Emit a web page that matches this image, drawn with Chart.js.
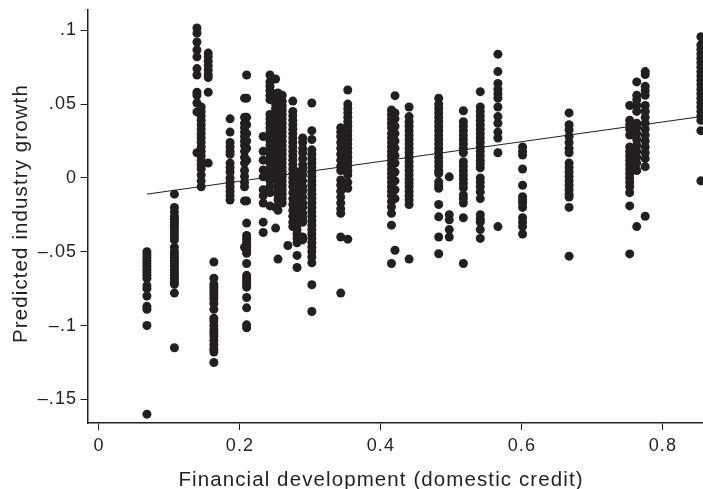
<!DOCTYPE html>
<html>
<head>
<meta charset="utf-8">
<title>Predicted industry growth</title>
<script src="https://cdn.jsdelivr.net/npm/chart.js@4"></script>
<style>
  html, body { margin: 0; padding: 0; background: #fff; }
  canvas { display: block; }
</style>
</head>
<body>
<canvas id="scatterChart" width="703" height="489"></canvas>
<script>
const xTicks = [0, 0.2, 0.4, 0.6, 0.8];
const xTickLabels = ['0', '0.2', '0.4', '0.6', '0.8'];
const yTicks = [0.1, 0.05, 0, -0.05, -0.1, -0.15];
const yTickLabels = ['.1', '.05', '0', '\u2013.05', '\u2013.1', '\u2013.15'];
const xTitle = 'Financial development (domestic credit)';
const yTitle = 'Predicted industry growth';

// one x value per column of dots, growth values below in the same order
const creditLevels = [0.068, 0.107, 0.139, 0.145, 0.155, 0.163, 0.186, 0.2065, 0.2095, 0.233, 0.2426, 0.2506, 0.254, 0.26,
  0.268, 0.275, 0.281, 0.289, 0.302, 0.343, 0.353, 0.415, 0.42, 0.44, 0.482, 0.497, 0.517, 0.541, 0.566, 0.601, 0.667,
  0.753, 0.763, 0.775, 0.854];

const c068 = [-0.05, -0.052, -0.054, -0.056, -0.058, -0.06, -0.062, -0.064, -0.066, -0.068, -0.073, -0.075, -0.08, -0.087, -0.089, -0.1, -0.16];
const c107 = [-0.011, -0.02, -0.023, -0.026, -0.028, -0.03, -0.032, -0.034, -0.036, -0.038, -0.04, -0.042, -0.047, -0.05, -0.052, -0.054, -0.056, -0.058, -0.06, -0.062, -0.064, -0.066, -0.068, -0.07, -0.072, -0.078, -0.115];
const c139 = [0.1015, 0.098, 0.092, 0.0866, 0.082, 0.074, 0.0697, 0.058, 0.056, 0.0507, 0.0447, 0.017];
const c145 = [0.048, 0.045, 0.042, 0.039, 0.036, 0.033, 0.03, 0.027, 0.024, 0.021, 0.018, 0.015, 0.012, 0.009, 0.006, 0.002, -0.002, -0.006];
const c155 = [0.0845, 0.082, 0.079, 0.076, 0.073, 0.07, 0.068, 0.058, 0.01];
const c163 = [-0.057, -0.068, -0.072, -0.074, -0.076, -0.078, -0.08, -0.082, -0.085, -0.089, -0.095, -0.097, -0.1, -0.103, -0.105, -0.107, -0.11, -0.113, -0.116, -0.118, -0.125];
const c186 = [0.04, 0.031, 0.024, 0.021, 0.018, 0.016, 0.01, 0.007, 0.004, 0.0, -0.003, -0.006, -0.009, -0.012, -0.015];
const c2065 = [0.054, 0.041, 0.037, 0.034, 0.031, 0.028, 0.025, 0.022, 0.018, 0.014, 0.01, 0.005, 0.001, -0.003, -0.006, -0.0156, -0.047];
const c2095 = [0.0697, 0.054, 0.041, 0.036, 0.03, 0.025, 0.02, 0.012, -0.0156, -0.0306, -0.039, -0.041, -0.043, -0.045, -0.047, -0.049, -0.051, -0.058, -0.066, -0.068, -0.07, -0.072, -0.074, -0.081, -0.088, -0.0995, -0.1015];
const c233 = [0.028, 0.018, 0.012, 0.0054, 0.0007, -0.008, -0.012, -0.017, -0.03, -0.037];
const c2426 = [0.0697, 0.065, 0.062, 0.059, 0.056, 0.053, 0.043, 0.04, 0.037, 0.034, 0.031, 0.028, 0.025, 0.022, 0.019, 0.016, 0.013, 0.01, 0.006, 0.002, -0.002, -0.006, -0.01, -0.019];
const c2506 = [0.067, 0.057, 0.054, 0.05, 0.047, 0.045, 0.04, 0.035, 0.03, 0.025, 0.02, 0.014, 0.008, 0.002, -0.02, -0.034];
const c254 = [0.0575, 0.054, 0.051, 0.048, 0.045, 0.042, 0.039, 0.036, 0.033, 0.03, 0.027, 0.024, 0.021, 0.018, 0.015, 0.012, 0.009, 0.006, 0.003, 0.0, -0.003, -0.006, -0.009, -0.012, -0.015, -0.022, -0.055];
const c26 = [0.056, 0.052, 0.049, 0.046, 0.043, 0.04, 0.037, 0.034, 0.031, 0.028, 0.025, 0.022, 0.019, 0.016, 0.013, 0.01, 0.007, 0.004, 0.001, -0.002, -0.005, -0.008, -0.011, -0.014, -0.017];
const c268 = [-0.0458];
const c275 = [0.052, 0.045, 0.042, 0.039, 0.036, 0.033, 0.03, 0.027, 0.024, 0.021, 0.018, 0.015, 0.012, 0.009, 0.006, 0.003, 0.0, -0.003, -0.006, -0.01, -0.014, -0.018, -0.022, -0.026, -0.03, -0.033];
const c281 = [0.004, 0.001, -0.003, -0.006, -0.01, -0.014, -0.018, -0.022, -0.026, -0.029, -0.032, -0.035, -0.038, -0.041, -0.044, -0.0525, -0.0607];
const c289 = [0.027, 0.024, 0.02, 0.017, 0.013, 0.009, 0.006, 0.002, -0.002, -0.006, -0.009, -0.013, -0.017, -0.02, -0.024, -0.027, -0.03, -0.04, -0.042];
const c302 = [0.0507, 0.032, 0.026, 0.019, 0.016, 0.013, 0.01, 0.007, 0.004, 0.001, -0.002, -0.005, -0.008, -0.011, -0.014, -0.017, -0.02, -0.023, -0.026, -0.029, -0.032, -0.035, -0.038, -0.041, -0.044, -0.047, -0.05, -0.0535, -0.0575, -0.0724, -0.0905];
const c343 = [0.034, 0.031, 0.028, 0.024, 0.02, 0.016, 0.012, 0.008, 0.005, -0.0014, -0.005, -0.009, -0.013, -0.017, -0.021, -0.024, -0.04, -0.078];
const c353 = [0.0595, 0.05, 0.047, 0.044, 0.041, 0.038, 0.035, 0.032, 0.029, 0.026, 0.023, 0.02, 0.017, 0.014, 0.011, 0.008, 0.005, 0.002, -0.003, -0.007, -0.0415];
const c415 = [0.046, 0.043, 0.04, 0.037, 0.034, 0.03, 0.027, 0.024, 0.021, 0.018, 0.015, 0.012, 0.009, 0.006, 0.003, 0.0, -0.003, -0.006, -0.009, -0.012, -0.016, -0.0196, -0.024, -0.032, -0.058];
const c42 = [0.0557, 0.044, 0.04, 0.035, 0.03, 0.025, 0.02, 0.015, 0.01, 0.004, -0.002, -0.008, -0.014, -0.049];
const c44 = [0.048, 0.0415, 0.038, 0.035, 0.032, 0.029, 0.026, 0.023, 0.02, 0.017, 0.014, 0.011, 0.008, 0.005, 0.002, -0.001, -0.0035, -0.006, -0.009, -0.012, -0.015, -0.018, -0.055];
const c482 = [0.054, 0.05, 0.047, 0.044, 0.041, 0.038, 0.035, 0.032, 0.029, 0.026, 0.023, 0.02, 0.017, 0.014, 0.011, 0.008, 0.005, 0.003, -0.0027, -0.005, -0.007, -0.018, -0.0264, -0.04, -0.0514];
const c497 = [0.0007, -0.025, -0.0284, -0.035, -0.04];
const c517 = [0.0455, 0.038, 0.035, 0.032, 0.029, 0.026, 0.023, 0.02, 0.017, 0.011, 0.008, 0.005, 0.002, -0.001, -0.004, -0.0068, -0.0115, -0.014, -0.017, -0.027, -0.058];
const c541 = [0.0584, 0.048, 0.045, 0.042, 0.039, 0.036, 0.033, 0.03, 0.027, 0.024, 0.021, 0.018, 0.015, 0.012, 0.0095, 0.0068, 0.0, -0.003, -0.006, -0.0095, -0.014, -0.025, -0.028, -0.03, -0.035, -0.041];
const c566 = [0.0838, 0.072, 0.064, 0.06, 0.057, 0.054, 0.048, 0.0415, 0.037, 0.031, 0.027, 0.017, -0.033];
const c601 = [0.021, 0.018, 0.0155, 0.006, -0.005, -0.0127, -0.015, -0.017, -0.02, -0.027, -0.03, -0.033, -0.038];
const c667 = [0.044, 0.036, 0.0325, 0.028, 0.024, 0.02, 0.017, 0.01, 0.007, 0.004, 0.001, -0.002, -0.005, -0.008, -0.011, -0.013, -0.02, -0.053];
const c753 = [0.049, 0.039, 0.036, 0.033, 0.029, 0.021, 0.018, 0.015, 0.012, 0.009, 0.006, 0.003, 0.0, -0.003, -0.006, -0.01, -0.019, -0.0515];
const c763 = [0.065, 0.056, 0.053, 0.049, 0.045, 0.037, 0.034, 0.03, 0.026, 0.022, 0.018, 0.014, 0.01, 0.005, -0.033];
const c775 = [0.072, 0.07, 0.062, 0.059, 0.056, 0.049, 0.045, 0.041, 0.037, 0.033, 0.029, 0.025, 0.021, 0.017, 0.013, 0.0076, -0.026];
const c854 = [0.0956, 0.09, 0.087, 0.084, 0.081, 0.078, 0.075, 0.072, 0.069, 0.066, 0.063, 0.06, 0.057, 0.054, 0.051, 0.048, 0.045, 0.042, 0.039, 0.032, -0.002];

const growthColumns = [c068, c107, c139, c145, c155, c163, c186, c2065, c2095, c233, c2426, c2506, c254, c26, c268, c275, c281,
  c289, c302, c343, c353, c415, c42, c44, c482, c497, c517, c541, c566, c601, c667, c753, c763, c775, c854];

const fitX = [0.068, 0.854];
const fitY = [-0.011, 0.0415];

const ink = '#231f20';
const fontFamily = '"Liberation Sans", Arial, sans-serif';

const points = [];
creditLevels.forEach((x, i) => {
  growthColumns[i].forEach(y => points.push({ x, y }));
});

// the book's type is widely spaced, and its axis titles are off centre,
// the scale title option can do neither
const bookType = {
  id: 'bookType',
  beforeDraw(chart) {
    chart.ctx.letterSpacing = '1.1px';
  },
  afterDraw(chart) {
    const ctx = chart.ctx;
    ctx.save();
    ctx.fillStyle = ink;
    ctx.font = `20.5px ${fontFamily}`;
    ctx.textAlign = 'center';
    ctx.textBaseline = 'alphabetic';
    ctx.fillText(xTitle, 381, 486);
    ctx.translate(26.5, 213.5);
    ctx.rotate(-Math.PI / 2);
    ctx.fillText(yTitle, 0, 0);
    ctx.restore();
  },
};

new Chart(document.getElementById('scatterChart').getContext('2d'), {
  type: 'scatter',
  plugins: [bookType],
  data: {
    datasets: [
      {
        label: 'Fitted line',
        type: 'line',
        data: fitX.map((x, i) => ({ x, y: fitY[i] })),
        borderColor: ink,
        borderWidth: 1,
        pointRadius: 0,
        fill: false,
      },
      {
        label: 'Industries',
        data: points,
        backgroundColor: ink,
        borderWidth: 0,
        pointRadius: 4.5,
      },
    ],
  },
  options: {
    responsive: false,
    animation: false,
    layout: { autoPadding: false, padding: { top: 10, right: 0, left: 0, bottom: 0 } },
    plugins: { legend: { display: false }, tooltip: { enabled: false } },
    scales: {
      x: {
        type: 'linear',
        min: -0.0163,
        max: 0.857,
        afterBuildTicks: axis => { axis.ticks = xTicks.map(value => ({ value })); },
        afterFit: axis => {
          axis.height = 66;
          axis.paddingRight = 0;
          axis.paddingLeft = 0;
        },
        grid: { drawOnChartArea: false, color: ink, tickLength: 7, tickWidth: 1 },
        border: { color: ink, width: 1.5 },
        ticks: {
          color: ink,
          font: { family: fontFamily, size: 18 },
          padding: 5,
          maxRotation: 0,
          autoSkip: false,
          callback: value => xTickLabels[xTicks.indexOf(value)],
        },
      },
      y: {
        type: 'linear',
        min: -0.166,
        max: 0.1137,
        afterBuildTicks: axis => { axis.ticks = yTicks.map(value => ({ value })); },
        afterFit: axis => {
          axis.width = 87.5;
          axis.paddingTop = 0;
          axis.paddingBottom = 0;
        },
        grid: { drawOnChartArea: false, color: ink, tickLength: 7, tickWidth: 1 },
        border: { color: ink, width: 1.5 },
        ticks: {
          color: ink,
          font: { family: fontFamily, size: 18 },
          padding: 3.4,
          autoSkip: false,
          callback: value => yTickLabels[yTicks.indexOf(value)],
        },
      },
    },
  },
});
</script>
</body>
</html>
